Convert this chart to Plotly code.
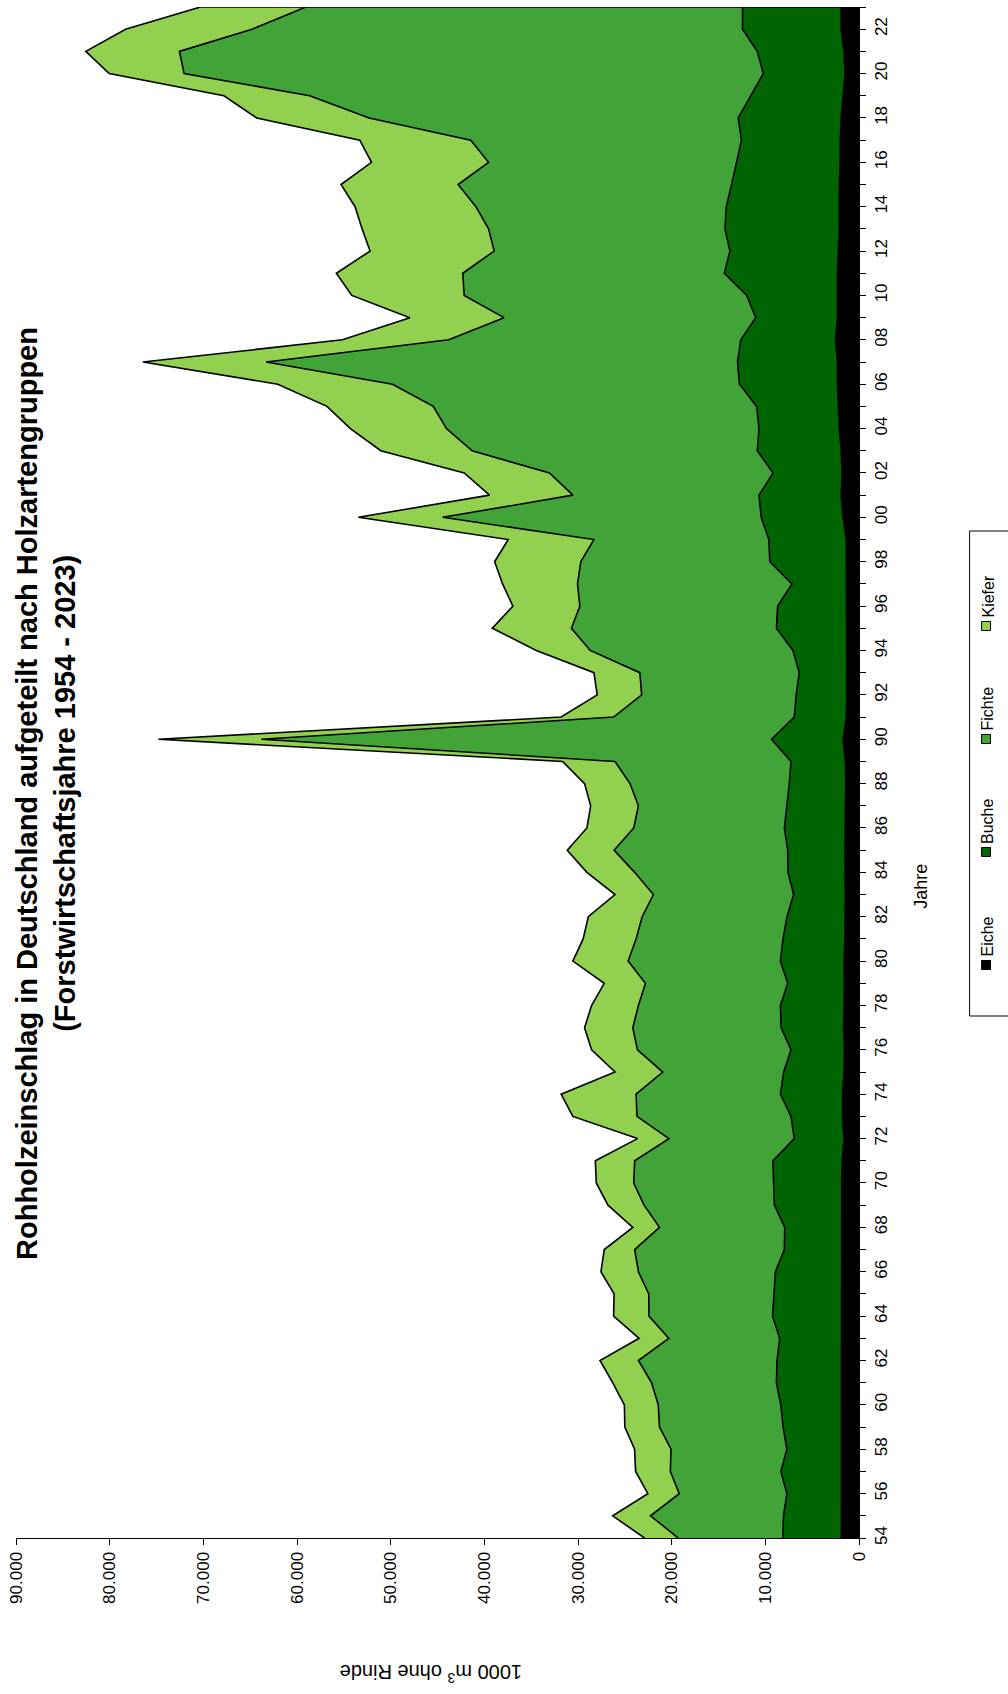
import plotly.graph_objects as go

# ---------------- data (1000 m³ ohne Rinde) ----------------
YEARS = list(range(1954, 2024))

EICHE = [1870, 1870, 1880, 1880, 1880, 1880, 1880, 1880, 1900, 1900,
         1900, 1900, 1900, 1850, 1850, 1850, 1850, 1800, 1600, 1750,
         1750, 1600, 1550, 1650, 1600, 1550, 1600, 1500, 1500, 1450,
         1500, 1500, 1450, 1450, 1400, 1450, 1700, 1350, 1300, 1300,
         1300, 1350, 1300, 1300, 1350, 1350, 1700, 1900, 1800, 1900,
         2100, 2200, 2300, 2300, 2500, 2300, 2300, 2300, 2200, 2100,
         2100, 2100, 2000, 2000, 1900, 1700, 1500, 1600, 1900, 1900]

BUCHE = [6260, 6190, 5820, 6460, 5820, 6220, 6470, 6940, 6850, 6570,
         7330, 7200, 7020, 6120, 6080, 7180, 7250, 7400, 5310, 5510,
         6640, 6440, 5710, 6670, 6790, 6060, 6790, 6610, 6190, 5530,
         6080, 6110, 6520, 6240, 6040, 5810, 7640, 5560, 5400, 5080,
         5750, 7470, 7380, 5860, 8170, 8280, 8740, 8780, 7370, 8960,
         8580, 8730, 10460, 10670, 10120, 8730, 9690, 12080, 11580, 12210,
         12070, 11500, 11040, 10550, 11000, 9860, 8720, 9260, 10540, 10540]

FICHTE = [11170, 14200, 11490, 11800, 12370, 13200, 13080, 13330, 14800, 11840,
          13190, 13350, 14630, 15980, 13370, 13920, 14950, 14750, 13390, 16440,
          15410, 12910, 16390, 15830, 15160, 15190, 16260, 15690, 15460, 14970,
          16370, 18540, 16080, 15860, 17010, 18790, 54460, 19290, 16500, 17020,
          21650, 21880, 21120, 22890, 20180, 18670, 34010, 19870, 23880, 30440,
          33370, 34520, 37040, 50330, 31180, 26870, 30160, 27920, 25170, 25240,
          26730, 29200, 26510, 28900, 39400, 47090, 61830, 61690, 52360, 46610]

KIEFER = [3600, 4040, 3350, 3710, 3890, 3700, 3620, 4150, 4100, 3170,
          3780, 3700, 4000, 3250, 2850, 3850, 4000, 4200, 3350, 6850,
          8000, 5100, 4900, 5150, 5000, 4400, 5900, 5650, 5750, 4100,
          5100, 5000, 5000, 5100, 4850, 5600, 11000, 5600, 4750, 4900,
          5750, 8450, 7150, 8000, 9200, 9150, 9000, 8900, 9100, 9750,
          10250, 11350, 12250, 13150, 11350, 10050, 12000, 13500, 13250, 13500,
          12900, 12500, 12500, 11850, 12000, 9150, 8000, 10000, 13500, 11250]

SERIES_NAMES = ["Eiche", "Buche", "Fichte", "Kiefer"]
SERIES_VALUES = [EICHE, BUCHE, FICHTE, KIEFER]
SERIES_COLORS = ["#000000", "#006400", "#42A338", "#92D050"]

LABEL_YEARS = [y for y in YEARS if y % 2 == 0]
YEAR_LABELS = [f"{y % 100:02d}" for y in LABEL_YEARS]
VALUE_TICKS = [0, 10000, 20000, 30000, 40000, 50000, 60000, 70000, 80000, 90000]

TITLE_1 = "Rohholzeinschlag in Deutschland aufgeteilt nach Holzartengruppen"
TITLE_2 = "(Forstwirtschaftsjahre 1954 - 2023)"
X_TITLE = "Jahre"
Y_TITLE = "1000 m<sup>3</sup> ohne Rinde"

# ---------------- layout geometry ----------------
W, H = 1008, 1694
ML, MR, MT, MB = 13, 149, 7, 156
PW, PH = W - ML - MR, H - MT - MB
FONT = "Liberation Sans, Arial, sans-serif"


def px(x):
    return (x - ML) / PW


def py(y):
    return 1 - (y - MT) / PH


fig = go.Figure()
for name, vals, col in zip(SERIES_NAMES, SERIES_VALUES, SERIES_COLORS):
    fig.add_trace(go.Scatter(
        x=vals, y=YEARS, name=name, mode="lines",
        stackgroup="holz", orientation="h",
        line=dict(color="black", width=1.6),
        fillcolor=col, showlegend=False,
    ))

# closing edge of the stacked polygon at the last year
total_last = sum(v[-1] for v in SERIES_VALUES)
fig.add_trace(go.Scatter(x=[0, total_last], y=[YEARS[-1], YEARS[-1]], mode="lines",
                         line=dict(color="black", width=1.6), showlegend=False,
                         hoverinfo="skip"))

fig.update_layout(
    width=W, height=H,
    margin=dict(l=ML, r=MR, t=MT, b=MB, pad=0),
    paper_bgcolor="white", plot_bgcolor="white",
    separators=",.",
    font=dict(family=FONT, size=17, color="black"),
    showlegend=False,
)

fig.update_xaxes(
    range=[90000, 0], tickvals=VALUE_TICKS, tickformat=",d",
    tickangle=-90, ticks="outside", ticklen=6, tickwidth=1, tickcolor="black",
    showline=True, linecolor="black", linewidth=1.2,
    showgrid=False, zeroline=False, tickfont=dict(size=17),
)
fig.update_yaxes(
    range=[YEARS[0], YEARS[-1]], side="right",
    tickvals=LABEL_YEARS, ticktext=YEAR_LABELS, tickangle=-90,
    ticks="outside", ticklen=6, tickwidth=1, tickcolor="black",
    minor=dict(tick0=YEARS[0], dtick=1, ticks="outside", ticklen=6,
               tickwidth=1, tickcolor="black", showgrid=False),
    showline=True, linecolor="black", linewidth=1.2,
    showgrid=False, zeroline=False, tickfont=dict(size=17),
)

ann = []
ann.append(dict(text=f"<b>{TITLE_1}</b>", x=px(24), y=py(793), xref="paper", yref="paper",
                textangle=-90, showarrow=False, font=dict(size=29, family=FONT),
                xanchor="center", yanchor="middle"))
ann.append(dict(text=f"<b>{TITLE_2}</b>", x=px(62), y=py(793), xref="paper", yref="paper",
                textangle=-90, showarrow=False, font=dict(size=29, family=FONT),
                xanchor="center", yanchor="middle"))
ann.append(dict(text=X_TITLE, x=px(921), y=py(886), xref="paper", yref="paper",
                textangle=-90, showarrow=False, font=dict(size=18, family=FONT),
                xanchor="center", yanchor="middle"))
ann.append(dict(text=Y_TITLE, x=px(430), y=py(1674), xref="paper", yref="paper",
                textangle=180, showarrow=False, font=dict(size=20, family=FONT),
                xanchor="center", yanchor="middle"))

shapes = []
# legend frame
shapes.append(dict(type="rect", xref="paper", yref="paper",
                   x0=px(970), x1=px(1014), y0=py(531), y1=py(1016),
                   line=dict(color="black", width=1), fillcolor="white", layer="above"))
LEG_Y = {"Eiche": 965, "Buche": 852, "Fichte": 739, "Kiefer": 626}
for name, col in zip(SERIES_NAMES, SERIES_COLORS):
    cy = LEG_Y[name]
    shapes.append(dict(type="rect", xref="paper", yref="paper",
                       x0=px(982), x1=px(991), y0=py(cy + 4.5), y1=py(cy - 4.5),
                       line=dict(color="black", width=1), fillcolor=col, layer="above"))
    ann.append(dict(text=name, x=px(988), y=py(cy - 6), xref="paper", yref="paper",
                    textangle=-90, showarrow=False, font=dict(size=16, family=FONT),
                    xanchor="center", yanchor="bottom"))

fig.update_layout(annotations=ann, shapes=shapes)
fig.write_html(
    "out.html",
    config={"displayModeBar": False},
    post_script="document.body.style.margin='0';document.body.style.overflow='hidden';",
)
